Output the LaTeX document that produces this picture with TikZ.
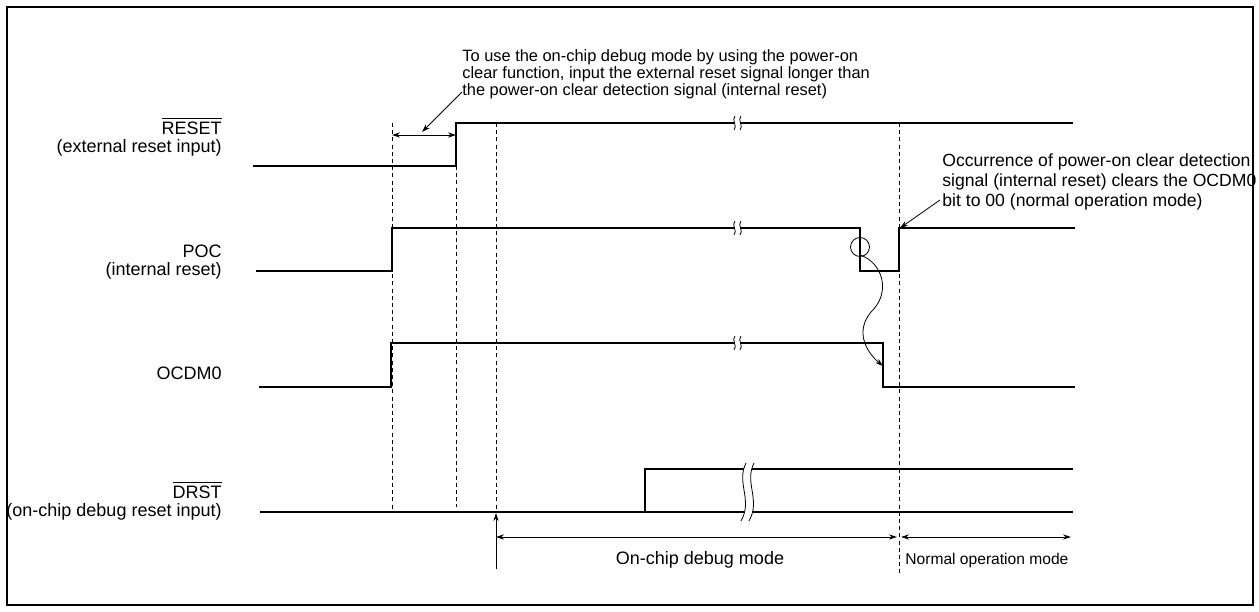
\documentclass[tikz,border=0pt]{standalone}
\usepackage{fontspec}
\setmainfont{Liberation Sans}
\usetikzlibrary{arrows.meta}

\begin{document}
\begin{tikzpicture}[x=0.5pt,y=-0.5pt,
                    wave/.style={line width=1.2pt},
                    guide/.style={line width=0.5pt,dash pattern=on 2pt off 1.6pt},
                    brk/.style={line width=0.4pt},
                    sig/.style={font=\fontsize{9}{9.4}\selectfont,align=right,
                                inner sep=0pt,anchor=east},
                    note/.style={font=\fontsize{8.2}{8.6}\selectfont,align=left,
                                 inner sep=0pt,anchor=west},
                    pointer/.style={line width=0.4pt,-{Stealth[length=4pt,width=2.6pt]}},
                    span/.style={line width=0.4pt,
                                 {Stealth[length=4pt,width=2.6pt]}-{Stealth[length=4pt,width=2.6pt]}}]
  \useasboundingbox (0,0) rectangle (1259,611);
  \draw[line width=1pt] (7,7) rectangle (1253,605);

  % signal names
  \node[sig] (resetlbl) at (222,137) {$\overline{\mbox{RESET}}$\\(external reset input)};
  \node[sig] (poclbl) at (222,262) {POC\\(internal reset)};
  \node[sig] (ocdmlbl) at (222,373) {OCDM0};
  \node[sig] (drstlbl) at (222,501) {$\overline{\mbox{DRST}}$\\(on-chip debug reset input)};

  % waveforms
  \draw[wave] (253,166) -- (456,166) -- (456,123) -- (734,123);
  \draw[wave] (740,123) -- (1073,123);
  \draw[wave] (256,271) -- (392,271) -- (392,228) -- (734,228);
  \draw[wave] (740,228) -- (860,228) -- (860,271) -- (899,271) -- (899,228) -- (1075,228);
  \draw[wave] (259,387) -- (391,387) -- (391,343) -- (734,343);
  \draw[wave] (740,343) -- (883,343) -- (883,387) -- (1075,387);
  \draw[wave] (260,512) -- (744,512);
  \draw[wave] (752,512) -- (1073,512);
  \draw[wave] (645,512) -- (645,469) -- (744,469);
  \draw[wave] (752,469) -- (1073,469);

  % break marks
  \draw[brk] (735,116) .. controls (731,120) and (738,126) .. (734,130);
  \draw[brk] (741,116) .. controls (737,120) and (744,126) .. (740,130);
  \draw[brk] (735,221) .. controls (731,225) and (738,231) .. (734,235);
  \draw[brk] (741,221) .. controls (737,225) and (744,231) .. (740,235);
  \draw[brk] (735,336) .. controls (731,340) and (738,346) .. (734,350);
  \draw[brk] (741,336) .. controls (737,340) and (744,346) .. (740,350);
  \draw[brk] (746,463) .. controls (736,483) and (753,500) .. (741,521);
  \draw[brk] (754,463) .. controls (744,483) and (761,500) .. (749,521);

  % timing guides
  \draw[guide] (392,123) -- (392,512);
  \draw[guide] (456,166) -- (456,507);
  \draw[guide] (496,123) -- (496,512);
  \draw[guide] (899,123) -- (899,573);

  % annotation: external reset longer than POC
  \node[note] (longnote) at (462,74)
    {To use the on-chip debug mode by using the power-on\\
     clear function, input the external reset signal longer than\\
     the power-on clear detection signal (internal reset)};
  \coordinate (longtail) at (462,92);
  \coordinate (longtip) at (422,132);
  \coordinate (gapl) at (392,135);
  \coordinate (gapr) at (456,135);
  \draw[span] (gapl) -- (gapr);
  \draw[pointer] (longtail) -- (longtip);

  % annotation: POC clears OCDM0
  \node[note,font=\fontsize{8.8}{10}\selectfont] (clearnote) at (942,182)
    {Occurrence of power-on clear detection\\
     signal (internal reset) clears the OCDM0\\
     bit to 00 (normal operation mode)};
  \coordinate (cleartail) at (940,200);
  \coordinate (cleartip) at (900,228);
  \draw[pointer] (cleartail) -- (cleartip);
  \draw[line width=0.4pt] (860,247) circle (9.5);
  \coordinate (pocfall) at (860,255);
  \coordinate (ocdmfall) at (883,366);
  \draw[pointer] (pocfall) .. controls (882,262) and (892,292) .. (871,312)
                 .. controls (856,330) and (864,350) .. (ocdmfall);

  % modes
  \coordinate (drstup) at (496,513);
  \coordinate (drstbase) at (496,569);
  \draw[pointer] (drstbase) -- (drstup);
  \coordinate (dbgl) at (496,537);
  \coordinate (dbgr) at (897,537);
  \coordinate (norml) at (901,537);
  \coordinate (normr) at (1071,537);
  \draw[span] (dbgl) -- (dbgr);
  \draw[span] (norml) -- (normr);
  \node[font=\fontsize{9}{10}\selectfont,inner sep=0pt] (debugmode) at (700,560) {On-chip debug mode};
  \node[font=\fontsize{7.8}{9}\selectfont,inner sep=0pt,anchor=west] (normalmode) at (905,560) {Normal operation mode};
\end{tikzpicture}
\end{document}
